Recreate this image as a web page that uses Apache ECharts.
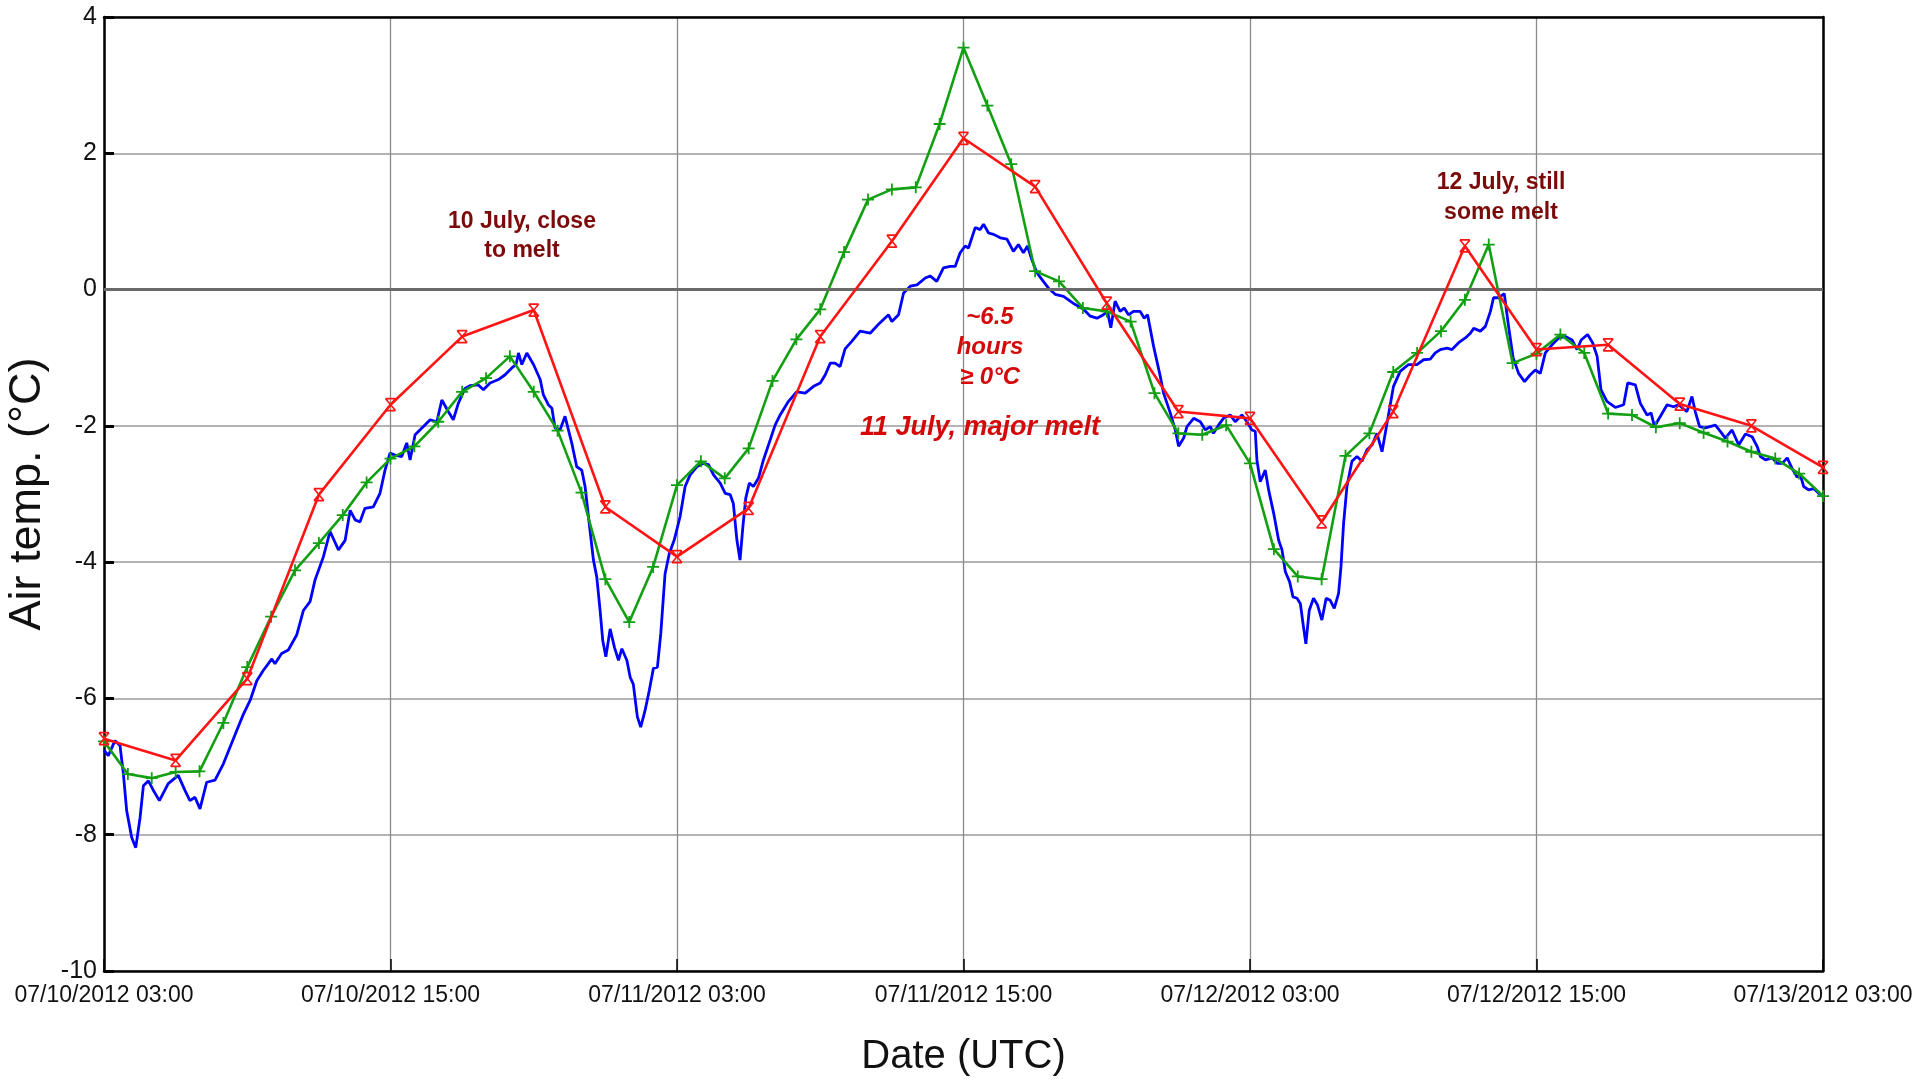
<!DOCTYPE html>
<html>
<head>
<meta charset="utf-8">
<script src="https://cdn.jsdelivr.net/npm/echarts@6/dist/echarts.min.js"></script>
<style>
html,body{margin:0;padding:0;background:#fff;}
#chart{width:1929px;height:1081px;}
</style>
</head>
<body>
<div id="chart"></div>
<script>
// x tick labels (every 12 hours from 07/10/2012 03:00 UTC)
var tickLabels = ['07/10/2012 03:00','07/10/2012 15:00','07/11/2012 03:00','07/11/2012 15:00','07/12/2012 03:00','07/12/2012 15:00','07/13/2012 03:00'];

// Blue: high-resolution air temperature; hours since 07/10/2012 03:00
var blueHours = [0,0.18,0.46,0.67,0.81,0.95,1.16,1.33,1.51,1.65,1.86,2.07,2.32,2.69,3.11,3.39,3.60,3.81,4.02,4.30,4.65,5.00,5.56,5.84,6.12,6.40,6.67,7.03,7.16,7.44,7.72,8.07,8.35,8.63,8.84,9.19,9.47,9.82,10.10,10.31,10.52,10.72,10.93,11.28,11.56,11.77,11.98,12.19,12.47,12.68,12.82,13.03,13.38,13.66,13.94,14.15,14.42,14.63,14.84,15.12,15.33,15.68,15.89,16.17,16.52,16.80,17.08,17.26,17.36,17.50,17.71,17.99,18.27,18.40,18.61,18.76,18.89,19.10,19.31,19.59,19.80,20.01,20.15,20.29,20.50,20.64,20.78,20.89,21.02,21.20,21.38,21.55,21.69,21.90,22.04,22.17,22.34,22.48,22.66,22.84,23.01,23.18,23.32,23.50,23.68,23.88,24.13,24.34,24.55,24.83,25.11,25.32,25.53,25.81,26.02,26.23,26.36,26.51,26.64,26.76,26.88,27.03,27.20,27.41,27.62,27.90,28.11,28.32,28.67,29.02,29.37,29.72,30.00,30.21,30.42,30.62,30.83,31.04,31.32,31.67,32.09,32.44,32.65,32.86,33.00,33.28,33.49,33.77,34.05,34.40,34.60,34.88,35.16,35.44,35.65,35.86,36.07,36.21,36.49,36.70,36.84,37.05,37.26,37.54,37.82,38.09,38.30,38.51,38.68,38.86,39.07,39.28,39.56,39.84,40.19,40.47,40.68,41.03,41.31,41.59,41.86,42.03,42.17,42.35,42.56,42.73,42.91,43.12,43.40,43.57,43.71,43.96,44.24,44.38,44.66,44.87,45.01,45.22,45.36,45.64,45.92,46.13,46.34,46.47,46.68,46.89,47.17,47.38,47.66,47.87,48.08,48.22,48.29,48.43,48.64,48.78,48.99,49.20,49.34,49.48,49.66,49.80,49.97,50.11,50.22,50.34,50.48,50.66,50.83,51.01,51.19,51.36,51.53,51.71,51.81,51.92,52.06,52.27,52.48,52.69,52.90,53.11,53.32,53.53,53.74,54.01,54.29,54.64,54.99,55.27,55.55,55.76,55.97,56.25,56.46,56.74,57.02,57.23,57.37,57.65,57.86,58.07,58.20,58.41,58.65,58.83,59.02,59.25,59.50,59.74,59.95,60.16,60.37,60.65,60.93,61.21,61.49,61.70,61.87,62.14,62.35,62.54,62.70,62.95,63.30,63.65,63.82,64.14,64.35,64.63,64.80,64.94,65.19,65.47,65.74,65.95,66.30,66.51,66.65,66.83,67.07,67.49,67.70,67.91,68.19,68.47,68.75,69.03,69.24,69.38,69.59,69.87,70.08,70.29,70.50,70.70,70.91,71.05,71.19,71.40,71.61,71.82,72.00];
var blueTemps = [-6.76,-6.84,-6.62,-6.69,-7.10,-7.65,-8.04,-8.19,-7.75,-7.28,-7.21,-7.35,-7.50,-7.25,-7.13,-7.35,-7.50,-7.45,-7.62,-7.23,-7.20,-6.96,-6.47,-6.23,-6.03,-5.74,-5.59,-5.42,-5.49,-5.34,-5.29,-5.07,-4.71,-4.58,-4.26,-3.92,-3.55,-3.82,-3.68,-3.24,-3.38,-3.41,-3.21,-3.19,-2.99,-2.65,-2.40,-2.43,-2.45,-2.25,-2.50,-2.13,-2.01,-1.91,-1.94,-1.62,-1.79,-1.91,-1.67,-1.45,-1.41,-1.40,-1.47,-1.37,-1.32,-1.25,-1.15,-1.10,-0.93,-1.10,-0.93,-1.10,-1.32,-1.54,-1.69,-1.74,-2.03,-2.06,-1.86,-2.25,-2.60,-2.65,-2.89,-3.33,-3.97,-4.22,-4.71,-5.15,-5.39,-4.98,-5.25,-5.44,-5.27,-5.44,-5.69,-5.79,-6.27,-6.42,-6.18,-5.88,-5.56,-5.54,-5.05,-4.17,-3.87,-3.68,-3.33,-2.89,-2.72,-2.60,-2.55,-2.57,-2.72,-2.84,-2.99,-3.01,-3.14,-3.68,-3.97,-3.48,-3.06,-2.84,-2.89,-2.77,-2.50,-2.21,-1.99,-1.84,-1.64,-1.50,-1.52,-1.42,-1.37,-1.25,-1.08,-1.08,-1.13,-0.87,-0.76,-0.61,-0.64,-0.51,-0.44,-0.37,-0.47,-0.37,-0.05,0.05,0.07,0.17,0.20,0.12,0.32,0.34,0.34,0.54,0.64,0.61,0.91,0.88,0.96,0.83,0.81,0.76,0.74,0.56,0.66,0.54,0.64,0.44,0.25,0.15,0.02,-0.07,-0.10,-0.17,-0.22,-0.29,-0.39,-0.42,-0.37,-0.32,-0.56,-0.17,-0.32,-0.27,-0.37,-0.32,-0.32,-0.42,-0.37,-0.83,-1.27,-1.52,-1.81,-2.06,-2.30,-2.18,-2.01,-1.89,-1.94,-2.06,-2.01,-2.11,-1.99,-1.89,-1.84,-1.94,-1.84,-1.94,-2.06,-2.08,-2.50,-2.82,-2.65,-2.94,-3.28,-3.68,-3.82,-4.14,-4.29,-4.51,-4.53,-4.61,-4.90,-5.20,-4.71,-4.53,-4.63,-4.85,-4.53,-4.56,-4.68,-4.46,-4.07,-3.43,-2.89,-2.52,-2.45,-2.52,-2.35,-2.28,-2.11,-2.38,-1.96,-1.42,-1.20,-1.10,-1.10,-1.03,-1.02,-0.93,-0.88,-0.86,-0.88,-0.78,-0.71,-0.64,-0.57,-0.61,-0.54,-0.32,-0.12,-0.12,-0.06,-0.54,-1.00,-1.23,-1.35,-1.25,-1.18,-1.23,-0.93,-0.81,-0.71,-0.69,-0.74,-0.88,-0.74,-0.66,-0.78,-0.98,-1.47,-1.64,-1.73,-1.69,-1.37,-1.40,-1.67,-1.84,-1.81,-2.01,-1.86,-1.69,-1.72,-1.69,-1.79,-1.57,-1.79,-2.01,-2.03,-1.99,-2.08,-2.18,-2.06,-2.28,-2.12,-2.16,-2.30,-2.45,-2.50,-2.47,-2.55,-2.55,-2.47,-2.62,-2.75,-2.72,-2.89,-2.94,-2.92,-2.99,-3.04];

// Green: hourly values, hours 0..72
var greenTemps = [-6.63,-7.11,-7.17,-7.08,-7.07,-6.36,-5.54,-4.80,-4.12,-3.72,-3.31,-2.83,-2.48,-2.30,-1.94,-1.50,-1.30,-0.98,-1.50,-2.07,-2.98,-4.25,-4.88,-4.07,-2.87,-2.52,-2.77,-2.33,-1.34,-0.73,-0.29,0.55,1.32,1.47,1.50,2.43,3.55,2.70,1.84,0.27,0.12,-0.27,-0.32,-0.47,-1.52,-2.11,-2.13,-1.99,-2.55,-3.81,-4.21,-4.25,-2.44,-2.11,-1.21,-0.93,-0.61,-0.15,0.66,-1.08,-0.94,-0.66,-0.93,-1.82,-1.84,-2.02,-1.96,-2.10,-2.23,-2.38,-2.48,-2.70,-3.03];

// Red: 3-hourly values, hours 0,3,...,72
var redTemps = [-6.59,-6.91,-5.71,-3.01,-1.69,-0.69,-0.30,-3.19,-3.92,-3.21,-0.69,0.71,2.22,1.51,-0.20,-1.79,-1.89,-3.41,-1.79,0.64,-0.88,-0.81,-1.68,-2.00,-2.61];

var bluePairs = blueHours.map(function(h,i){return [h, blueTemps[i]];});
var greenPairs = greenTemps.map(function(v,i){return [i, v];});
var redPairs = redTemps.map(function(v,i){return [i*3, v];});

var chart = echarts.init(document.getElementById('chart'), null, {renderer:'canvas'});
var sans = '"Liberation Sans Narrow", "Arial Narrow", "Liberation Sans", Arial, sans-serif';
var frameAxis = {show:true, onZero:false, lineStyle:{color:'#000', width:2.5}};
var option = {
  animation: false,
  backgroundColor: '#fff',
  grid: {left:104, right:106, top:17, bottom:110, containLabel:false, outerBoundsMode:'none'},
  xAxis: [{
    type:'value', min:0, max:72, interval:12,
    name:'Date (UTC)', nameLocation:'middle', nameGap:66,
    nameTextStyle:{fontFamily:sans, fontSize:40, color:'#111'},
    axisLine:frameAxis,
    axisTick:{show:true, inside:true, length:12, lineStyle:{color:'#000', width:1.5}},
    axisLabel:{fontFamily:sans, fontSize:23, color:'#111', margin:13, showMinLabel:true, showMaxLabel:true,
      formatter:function(v){return tickLabels[Math.round(v/12)] || '';}},
    splitLine:{show:true, lineStyle:{color:'#8a8a8a', width:1.3}}
  },{
    type:'value', min:0, max:72, interval:12, position:'top',
    axisLine:frameAxis, axisTick:{show:false}, axisLabel:{show:false}, splitLine:{show:false}
  }],
  yAxis: [{
    type:'value', min:-10, max:4, interval:2,
    name:'Air temp. (°C)', nameLocation:'middle', nameGap:52,
    nameTextStyle:{fontFamily:'"Liberation Sans", Arial, sans-serif', fontSize:45, color:'#111'},
    axisLine:frameAxis,
    axisTick:{show:true, inside:true, length:10, lineStyle:{color:'#000', width:3}},
    axisLabel:{fontFamily:sans, fontSize:25, color:'#111', margin:7},
    splitLine:{show:true, lineStyle:{color:'#b4b4b4', width:2.2}}
  },{
    type:'value', min:-10, max:4, interval:2, position:'right',
    axisLine:frameAxis, axisTick:{show:false}, axisLabel:{show:false}, splitLine:{show:false}
  }],
  series: [
    {
      type:'line', data:[], z:1, silent:true,
      markLine:{silent:true, symbol:'none', label:{show:false},
        lineStyle:{color:'#6a6a6a', width:3, type:'solid'},
        data:[{yAxis:0}]}
    },
    {
      name:'blue', type:'line', data:bluePairs, showSymbol:false, symbol:'none', z:3,
      lineStyle:{color:'#0000ff', width:2.8}, itemStyle:{color:'#0000ff'}
    },
    {
      name:'green', type:'line', data:greenPairs, z:4,
      symbol:'path://M5,0L5,10M0,5L10,5', symbolSize:[12,12], showSymbol:true,
      lineStyle:{color:'#12a012', width:2.6},
      itemStyle:{color:'rgba(0,0,0,0)', borderColor:'#12a012', borderWidth:1.8}
    },
    {
      name:'red', type:'line', data:redPairs, z:5,
      symbol:'path://M0,0L10,0M0,0L10,12M10,0L0,12M0,12L10,12', symbolSize:[10,12], showSymbol:true,
      lineStyle:{color:'#ff1414', width:2.6},
      itemStyle:{color:'rgba(0,0,0,0)', borderColor:'#ff1414', borderWidth:1.6}
    }
  ],
  graphic: [
    {type:'text', x:522, y:236, z:10, style:{text:'10 July, close\nto melt', fill:'#7b0a0a', font:'bold 23px "Liberation Sans", Arial, sans-serif', align:'center', verticalAlign:'middle', lineHeight:29}},
    {type:'text', x:1501, y:198, z:10, style:{text:'12 July, still\nsome melt', fill:'#7b0a0a', font:'bold 23px "Liberation Sans", Arial, sans-serif', align:'center', verticalAlign:'middle', lineHeight:30}},
    {type:'text', x:990, y:347, z:10, style:{text:'~6.5\nhours\n≥ 0°C', fill:'#d40a0a', font:'italic bold 24px "Liberation Sans", Arial, sans-serif', align:'center', verticalAlign:'middle', lineHeight:30}},
    {type:'text', x:980, y:428, z:10, style:{text:'11 July, major melt', fill:'#d40a0a', font:'italic bold 27px "Liberation Sans", Arial, sans-serif', align:'center', verticalAlign:'middle'}}
  ]
};
chart.setOption(option);
</script>
</body>
</html>
